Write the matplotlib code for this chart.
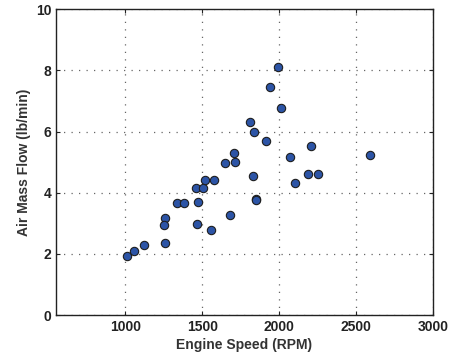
#!/usr/bin/env python3

"""
Scatter of air mass flow vs engine speed (MATLAB look)
"""

import matplotlib
matplotlib.use('Agg')
import matplotlib.pyplot as plt

# values
engine_speed = [1009, 1056, 1124, 1256, 1252, 1260, 1338, 1380, 1464, 1475,
                1460, 1505, 1521, 1575, 1560, 1646, 1679, 1705, 1716, 1809,
                1839, 1829, 1848, 1853, 1915, 1939, 1993, 2011, 2074, 2104,
                2191, 2208, 2254, 2592]
air_mass_flow = [1.94, 2.10, 2.29, 3.17, 2.96, 2.37, 3.65, 3.65, 2.98, 3.71,
                 4.15, 4.15, 4.42, 4.43, 2.78, 4.98, 3.26, 5.30, 4.99, 6.33,
                 5.98, 4.55, 3.78, 3.76, 5.68, 7.46, 8.11, 6.77, 5.16, 4.32,
                 4.60, 5.52, 4.61, 5.22]

x_ticks = [1000, 1500, 2000, 2500, 3000]
y_ticks = [0, 2, 4, 6, 8, 10]

plt.rcParams['font.family'] = ['Liberation Sans', 'DejaVu Sans']

fig = plt.figure(figsize=(4.53, 3.58), dpi=100)
ax = fig.add_axes([0.1236, 0.120, 0.832, 0.854])

ax.plot(engine_speed, air_mass_flow, 'o', markersize=6,
        markerfacecolor='#2c54a6', markeredgecolor='#1e1e1e',
        markeredgewidth=0.8)

ax.set_xlim(550, 3000)
ax.set_ylim(0, 10)
ax.set_xticks(x_ticks)
ax.set_yticks(y_ticks)

# sparse dotted grid, like MATLAB's
ax.grid(True, linestyle=(0, (1, 5)), color='#666666', linewidth=0.9)
ax.tick_params(direction='in', length=3, width=0.8, top=True, right=True,
               labelsize=10, colors='#222222')
for lbl in ax.get_xticklabels() + ax.get_yticklabels():
    lbl.set_fontweight('bold')
for spine in ax.spines.values():
    spine.set_linewidth(1.0)
    spine.set_color('#222222')

ax.set_xlabel('Engine Speed (RPM)', fontsize=10, fontweight='bold',
              color='#333333', labelpad=3)
ax.set_ylabel('Air Mass Flow (lb/min)', fontsize=10, fontweight='bold',
              color='#333333', labelpad=3)

plt.savefig('out.png', dpi=100)
